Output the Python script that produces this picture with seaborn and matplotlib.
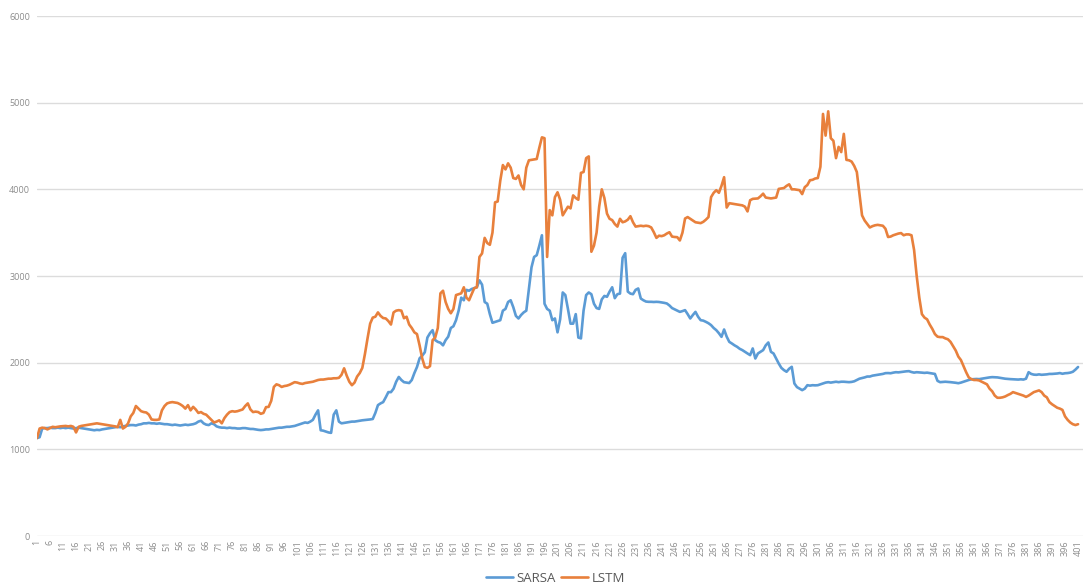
import numpy as np
import pandas as pd
import matplotlib
matplotlib.use("Agg")
import matplotlib.pyplot as plt
import seaborn as sns

# episode index on the category axis
steps = np.arange(1, 402)

sarsa = [
    1130, 1140, 1240, 1245, 1245, 1250, 1245, 1245, 1250, 1245,
    1250, 1245, 1250, 1245, 1240, 1245, 1250, 1245, 1240, 1235,
    1230, 1225, 1220, 1225, 1222, 1230, 1235, 1240, 1245, 1250,
    1255, 1260, 1255, 1265, 1270, 1275, 1280, 1280, 1275, 1285,
    1290, 1300, 1300, 1305, 1300, 1300, 1295, 1300, 1295, 1290,
    1290, 1285, 1280, 1285, 1280, 1275, 1280, 1285, 1280, 1285,
    1290, 1300, 1320, 1330, 1300, 1285, 1280, 1300, 1290, 1265,
    1255, 1250, 1250, 1245, 1250, 1245, 1245, 1240, 1240, 1245,
    1245, 1240, 1235, 1235, 1230, 1225, 1222, 1225, 1230, 1230,
    1235, 1240, 1245, 1250, 1250, 1255, 1260, 1260, 1265, 1270,
    1280, 1290, 1300, 1310, 1305, 1320, 1340, 1400, 1450, 1220,
    1215, 1205, 1195, 1190, 1400, 1450, 1320, 1300, 1305, 1310,
    1315, 1320, 1320, 1325, 1330, 1335, 1338, 1340, 1345, 1350,
    1420, 1510, 1530, 1545, 1600, 1660, 1660, 1700, 1780, 1835,
    1800, 1775, 1770, 1765, 1800, 1880, 1950, 2050, 2080, 2120,
    2290, 2340, 2375, 2260, 2240, 2230, 2200, 2260, 2300, 2400,
    2420, 2490, 2600, 2750, 2720, 2840, 2830, 2850, 2860, 2870,
    2950, 2900, 2700, 2680, 2560, 2460, 2470, 2480, 2490, 2600,
    2620, 2700, 2720, 2640, 2540, 2510, 2550, 2580, 2600, 2850,
    3100, 3220, 3240, 3350, 3470, 2680, 2620, 2600, 2490, 2510,
    2350, 2500, 2810, 2780, 2620, 2450, 2450, 2560, 2290, 2280,
    2600, 2780, 2810, 2790, 2680, 2630, 2620, 2730, 2770, 2760,
    2820, 2870, 2744, 2790, 2797, 3210, 3263, 2820, 2797, 2790,
    2840, 2856, 2740, 2720, 2705, 2702, 2702, 2700, 2702, 2700,
    2695, 2690, 2683, 2660, 2630, 2615, 2600, 2586, 2595, 2606,
    2560, 2510, 2550, 2586, 2530, 2490, 2485, 2471, 2455, 2433,
    2400, 2375, 2340, 2298, 2383, 2300, 2240, 2221, 2200, 2183,
    2160, 2145, 2125, 2106, 2087, 2164, 2048, 2106, 2125, 2145,
    2200, 2233, 2125, 2106, 2048, 1990, 1940, 1914, 1895, 1930,
    1952, 1760, 1718, 1700, 1683, 1700, 1740, 1735, 1740, 1738,
    1740, 1750, 1760, 1770, 1775, 1770, 1775, 1780, 1775, 1780,
    1780, 1778, 1775, 1778, 1785, 1800, 1815, 1822, 1830, 1840,
    1840, 1850, 1855, 1860, 1865, 1870, 1879, 1880, 1878, 1885,
    1890, 1888, 1892, 1895, 1900, 1902, 1892, 1885, 1890, 1888,
    1885, 1882, 1885, 1880, 1875, 1870, 1790, 1775, 1778, 1780,
    1778, 1775, 1772, 1768, 1763, 1770, 1780, 1790, 1800, 1808,
    1810, 1812, 1810, 1815, 1820, 1825, 1830, 1833, 1832, 1830,
    1825, 1820, 1815, 1812, 1810, 1808, 1806, 1805, 1808, 1805,
    1815, 1890, 1870, 1862, 1860, 1865, 1860, 1862, 1865, 1870,
    1870, 1872, 1875, 1880, 1872, 1878, 1880, 1885, 1895, 1920, 1950,
]

lstm = [
    1130, 1240, 1250, 1245, 1230, 1245, 1260, 1255, 1260, 1265,
    1268, 1270, 1265, 1270, 1260, 1195, 1260, 1270, 1275, 1280,
    1285, 1290, 1295, 1300, 1295, 1290, 1285, 1280, 1275, 1270,
    1265, 1255, 1340, 1240, 1260, 1300, 1380, 1420, 1500, 1470,
    1440, 1430, 1425, 1400, 1345, 1340, 1340, 1345, 1450, 1500,
    1530, 1540, 1545, 1540, 1535, 1520, 1500, 1470, 1510, 1450,
    1490, 1460, 1420, 1430, 1410, 1400, 1370, 1340, 1310, 1320,
    1335, 1300, 1360, 1400, 1430, 1440, 1435, 1440, 1450, 1460,
    1500, 1530, 1460, 1430, 1435, 1430, 1410, 1420, 1487, 1490,
    1560, 1720, 1750, 1740, 1720, 1730, 1735, 1745, 1760, 1775,
    1770, 1760, 1755, 1765, 1770, 1775, 1780, 1790, 1800, 1805,
    1805, 1810, 1815, 1815, 1820, 1820, 1825, 1860, 1935, 1850,
    1780, 1740, 1770, 1840, 1880, 1940, 2100, 2280, 2450, 2520,
    2530, 2580, 2540, 2515, 2510, 2480, 2440, 2580, 2600, 2606,
    2600, 2513, 2530, 2440, 2400, 2350, 2330, 2200, 2050, 1950,
    1940, 1960, 2260, 2290, 2400, 2800, 2830, 2700, 2620, 2570,
    2620, 2780, 2790, 2800, 2870, 2750, 2720, 2790, 2860, 2870,
    3220, 3260, 3440, 3380, 3360, 3500, 3850, 3860, 4100, 4280,
    4230, 4300, 4250, 4130, 4120, 4160, 4050, 4000, 4250, 4335,
    4340, 4345, 4350, 4480, 4600, 4590, 3220, 3760, 3700, 3910,
    3966, 3880, 3700, 3750, 3800, 3780, 3930, 3900, 3880, 4190,
    4200, 4360, 4380, 3280, 3350, 3500, 3800, 4000, 3900, 3720,
    3660, 3645, 3600, 3570, 3660, 3620, 3630, 3650, 3690, 3620,
    3570, 3575, 3580, 3575, 3580, 3575, 3560, 3505, 3440, 3465,
    3460, 3470, 3490, 3505, 3455, 3450, 3448, 3410, 3500, 3663,
    3680, 3660, 3640, 3620, 3615, 3610, 3625, 3650, 3680, 3910,
    3960, 3990, 3960, 4040, 4140, 3790, 3840, 3835, 3830, 3825,
    3820, 3815, 3800, 3745, 3874, 3890, 3893, 3895, 3920, 3950,
    3905, 3900, 3895, 3900, 3905, 4005, 4010, 4015, 4040, 4058,
    4000, 4000, 3995, 3990, 3945, 4025, 4050, 4105, 4110, 4125,
    4130, 4260, 4870, 4620, 4900, 4590, 4560, 4360, 4490, 4430,
    4640, 4340, 4335, 4320, 4270, 4200, 3950, 3700, 3640, 3600,
    3560, 3575, 3585, 3590, 3585, 3580, 3545, 3450, 3455, 3470,
    3480, 3490, 3495, 3470, 3480, 3480, 3470, 3300, 3000, 2750,
    2560, 2520, 2500, 2440, 2390, 2330, 2300, 2295, 2295, 2280,
    2270, 2240, 2190, 2140, 2070, 2030, 1960, 1890, 1830, 1810,
    1800, 1800, 1795, 1780, 1765, 1750, 1700, 1670, 1620, 1595,
    1595, 1600, 1610, 1626, 1640, 1660, 1650, 1640, 1630, 1620,
    1605, 1620, 1640, 1660, 1670, 1680, 1660, 1620, 1600, 1545,
    1520, 1500, 1480, 1470, 1455, 1380, 1340, 1310, 1290, 1280, 1290,
]

series_names = ["SARSA", "LSTM"]
y_ticks = [0, 1000, 2000, 3000, 4000, 5000, 6000]
x_ticks = steps[::5]

df = pd.DataFrame({
    "step": np.concatenate([steps, steps]),
    "value": sarsa + lstm,
    "model": [series_names[0]] * len(sarsa) + [series_names[1]] * len(lstm),
})

sns.set_style("white")
plt.rcParams["font.family"] = ["Open Sans", "DejaVu Sans"]

fig = plt.figure(figsize=(10.83, 5.88), dpi=100)
ax = fig.add_axes([37 / 1083, 52 / 588, 1046 / 1083, 520 / 588])

sns.lineplot(data=df, x="step", y="value", hue="model", hue_order=series_names,
             palette={"SARSA": "#5b9bd5", "LSTM": "#e8803c"},
             linewidth=1.9, ax=ax)

ax.set_xlim(1, 402.9)
ax.set_ylim(0, 6000)
ax.set_yticks(y_ticks)
ax.set_yticklabels([str(v) for v in y_ticks], fontsize=6.5, color="#8c8c8c")
ax.set_xticks(x_ticks)
ax.set_xticklabels([str(v) for v in x_ticks], rotation=90, fontsize=6.5, color="#8c8c8c")
ax.tick_params(axis="y", length=0, pad=5)
ax.tick_params(axis="x", length=0, pad=3)
ax.set_xlabel("")
ax.set_ylabel("")
ax.grid(axis="y", color="#dcdcdc", linewidth=1)
ax.grid(axis="x", visible=False)
for s in ax.spines.values():
    s.set_visible(False)

sns.move_legend(ax, "center", bbox_to_anchor=(0.496, -0.081), ncol=2,
                frameon=False, title=None, fontsize=9.5, handlelength=2.0,
                handletextpad=0.3, columnspacing=0.4, labelcolor="#595959")

fig.savefig("out.png", dpi=100)
